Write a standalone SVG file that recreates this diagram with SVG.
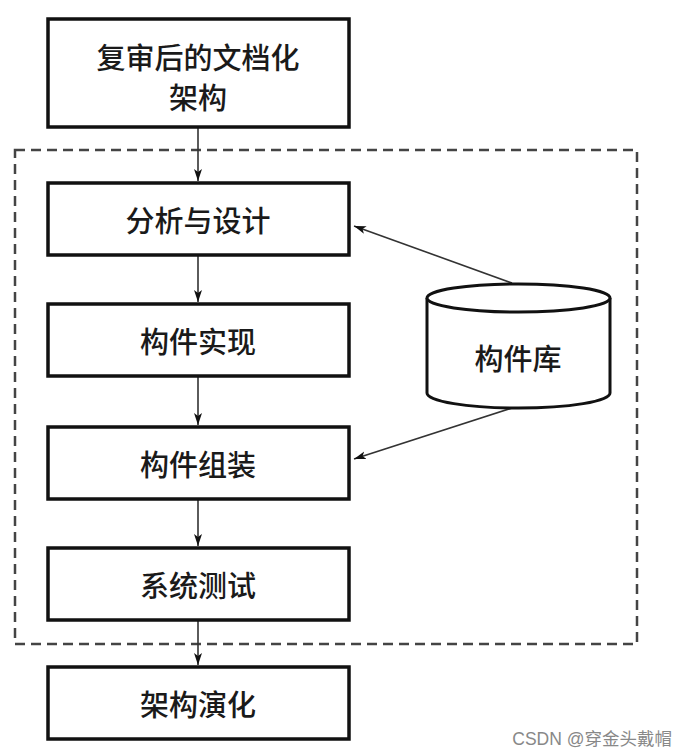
<svg xmlns="http://www.w3.org/2000/svg" width="686" height="755" viewBox="0 0 686 755">
<defs>
<marker id="ah" viewBox="0 0 12 10" refX="12" refY="5" markerWidth="12" markerHeight="10" markerUnits="userSpaceOnUse" orient="auto">
<path d="M0,1 L12,5 L0,9 L3,5 z" fill="#111"/>
</marker>
<style>
.box{fill:#fff;stroke:#111;stroke-width:3.5}
.t{font-family:"Noto Sans CJK SC","Noto Sans CJK JP",sans-serif;font-size:29px;font-weight:500;fill:#1a1a1a;text-anchor:middle;dominant-baseline:central}
.c{fill:none;stroke:#333;stroke-width:1.6;marker-end:url(#ah)}
</style>
</defs>
<rect width="686" height="755" fill="#fff"/>
<rect x="15" y="150" width="622" height="494" fill="none" stroke="#444" stroke-width="2.5" stroke-dasharray="10,6"/>
<g id="connectors">
<line class="c" x1="198" y1="128" x2="198" y2="181"/>
<line class="c" x1="198" y1="255" x2="198" y2="302"/>
<line class="c" x1="198" y1="377" x2="198" y2="425"/>
<line class="c" x1="198" y1="499" x2="198" y2="546"/>
<line class="c" x1="198" y1="620" x2="198" y2="665"/>
<line class="c" x1="512" y1="283" x2="354" y2="226"/>
<line class="c" x1="512" y1="408" x2="354" y2="459"/>
</g>
<g id="n1"><rect class="box" x="48" y="19" width="301" height="108"/><text class="t" x="198" y="56">复审后的文档化</text><text class="t" x="198" y="96">架构</text></g>
<g id="n2"><rect class="box" x="48" y="183" width="301" height="72"/><text class="t" x="198" y="219">分析与设计</text></g>
<g id="n3"><rect class="box" x="48" y="304" width="301" height="72"/><text class="t" x="198" y="340">构件实现</text></g>
<g id="n4"><rect class="box" x="48" y="427" width="301" height="72"/><text class="t" x="198" y="463">构件组装</text></g>
<g id="n5"><rect class="box" x="48" y="548" width="301" height="72"/><text class="t" x="198" y="584">系统测试</text></g>
<g id="n6"><rect class="box" x="48" y="667" width="301" height="72"/><text class="t" x="198" y="703">架构演化</text></g>
<g id="n7">
<path d="M427,298 L427,393 A91.5,15 0 0 0 610,393 L610,298" fill="#fff" stroke="#111" stroke-width="3"/>
<ellipse cx="518.5" cy="298" rx="91.5" ry="14" fill="#fff" stroke="#111" stroke-width="3"/>
<text class="t" x="518" y="357">构件库</text>
</g>
<text x="672" y="745" font-family="Liberation Sans,'Noto Sans CJK SC',sans-serif" font-size="17.5" fill="#888" text-anchor="end">CSDN @穿金头戴帽</text>
</svg>
